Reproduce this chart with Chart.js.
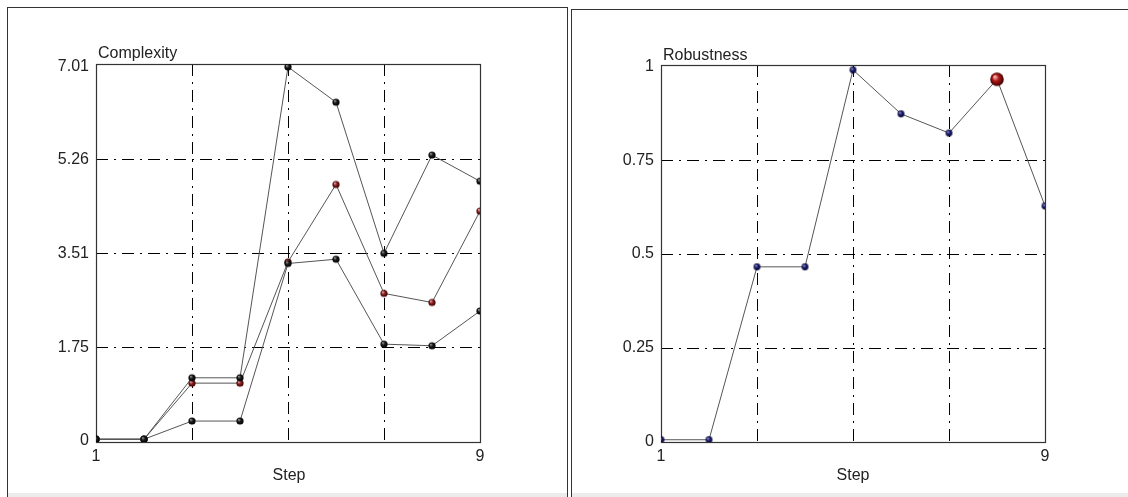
<!DOCTYPE html>
<html>
<head>
<meta charset="utf-8">
<script src="https://cdn.jsdelivr.net/npm/chart.js@4.4.1/dist/chart.umd.min.js"></script>
<style>
  html, body { margin:0; padding:0; background:#fff; width:1128px; height:497px; overflow:hidden; }
  .panel { position:absolute; border:1px solid #333; border-bottom:none; box-sizing:border-box; }
  .wrap { position:absolute; }
  .lbl { position:absolute; font-family:"Liberation Sans", Arial, sans-serif; font-size:16px; line-height:16px; color:#222; white-space:nowrap; }
  .strip { position:absolute; height:4px; background:#ececec; }
</style>
</head>
<body>
<div class="panel" style="left:7px; top:7px; width:561px; height:490px;"></div>
<div class="panel" style="left:571px; top:9px; width:560px; height:488px; border-right:none;"></div>
<div class="strip" style="left:8px; top:493px; width:559px;"></div>
<div class="strip" style="left:572px; top:493px; width:556px;"></div>

<div class="wrap" style="left:8px; top:8px; width:558px; height:489px;"><canvas id="c1"></canvas></div>
<div class="wrap" style="left:572px; top:10px; width:556px; height:487px;"><canvas id="c2"></canvas></div>

<div class="lbl" style="left:98px; top:45px;">Complexity</div>
<div class="lbl" style="left:663px; top:47px;">Robustness</div>
<div class="lbl" id="step1" style="left:289px; top:467px; transform:translateX(-50%);">Step</div>
<div class="lbl" id="step2" style="left:853px; top:467px; transform:translateX(-50%);">Step</div>

<script>
// ---- data ----
const steps = [1, 2, 3, 4, 5, 6, 7, 8, 9];
const complexityUpper = [0.03, 0.03, 1.18, 1.18, 7.00, 6.34, 3.51, 5.35, 4.86];
const complexityRed   = [0.03, 0.03, 1.08, 1.08, 3.35, 4.80, 2.76, 2.59, 4.30];
const complexityLower = [0.03, 0.03, 0.37, 0.37, 3.32, 3.40, 1.81, 1.78, 2.43];
const robustness      = [0.006, 0.006, 0.466, 0.466, 0.99, 0.873, 0.822, 0.965, 0.628];
const robustHighlightIndex = 7;

const xTickValues = [1, 3, 5, 7, 9];
const xTickLabels = ['1', '', '', '', '9'];
const complexityTickValues = [0, 1.75, 3.51, 5.26, 7.01];
const complexityTickLabels = ['0', '1.75', '3.51', '5.26', '7.01'];
const robustTickValues = [0, 0.25, 0.5, 0.75, 1];
const robustTickLabels = ['0', '0.25', '0.5', '0.75', '1'];

// ---- sprites ----
function sphere(r, light, mid, dark) {
  const s = Math.ceil(r * 2) + 2;
  const c = document.createElement('canvas');
  c.width = c.height = s;
  const g = c.getContext('2d');
  const cx = s / 2, cy = s / 2;
  const grad = g.createRadialGradient(cx - r * 0.35, cy - r * 0.4, r * 0.05, cx, cy, r);
  grad.addColorStop(0, light);
  grad.addColorStop(0.45, mid);
  grad.addColorStop(1, dark);
  g.fillStyle = grad;
  g.beginPath(); g.arc(cx, cy, r, 0, Math.PI * 2); g.fill();
  return c;
}
const blackBall = sphere(3.6, '#9a9a9a', '#1a1a1a', '#000000');
const redBall   = sphere(3.6, '#f0b0b0', '#8a2020', '#3a0000');
const navyBall  = sphere(3.4, '#a0a0e0', '#202070', '#000030');
const bigRed    = sphere(6.8, '#ffc8c8', '#b01818', '#400000');

const pts = arr => steps.map((s, i) => ({ x: s, y: arr[i] }));

const frame = {
  id: 'frame',
  beforeDatasetsDraw(chart) {
    const a = chart.chartArea, ctx = chart.ctx;
    ctx.save();
    ctx.strokeStyle = '#333';
    ctx.lineWidth = 1.2;
    ctx.strokeRect(Math.round(a.left) + 0.5, Math.round(a.top) + 0.5,
                   Math.round(a.right - a.left), Math.round(a.bottom - a.top));
    ctx.restore();
  }
};

const FONT = { family: '"Liberation Sans", Arial, sans-serif', size: 16 };
const DASH = [12, 6, 2, 6];

function makeOptions(yMin, yMax, yVals, yLabels, yWidth, padRight, padTop, xHeight) {
  return {
    responsive: true,
    maintainAspectRatio: false,
    animation: false,
    layout: { padding: { left: 0, top: padTop, right: padRight, bottom: 0 } },
    plugins: { legend: { display: false }, tooltip: { enabled: false } },
    elements: { line: { tension: 0 } },
    scales: {
      x: {
        type: 'linear', min: 1, max: 9,
        afterBuildTicks: s => { s.ticks = xTickValues.map(v => ({ value: v })); },
        afterFit: s => { s.height = xHeight; },
        ticks: {
          autoSkip: false, maxRotation: 0, padding: 5, color: '#222', font: FONT,
          callback: v => { const i = xTickValues.indexOf(v); return i >= 0 ? xTickLabels[i] : ''; }
        },
        grid: {
          drawTicks: false, lineWidth: 1,
          color: c => (c.tick && (c.tick.value === 1 || c.tick.value === 9)) ? 'rgba(0,0,0,0)' : '#000'
        },
        border: { display: false, dash: DASH }
      },
      y: {
        type: 'linear', min: yMin, max: yMax,
        afterBuildTicks: s => { s.ticks = yVals.map(v => ({ value: v })); },
        afterFit: s => { s.width = yWidth; },
        ticks: {
          autoSkip: false, padding: 7, color: '#222', font: FONT,
          callback: v => { const i = yVals.indexOf(v); return i >= 0 ? yLabels[i] : ''; }
        },
        grid: {
          drawTicks: false, lineWidth: 1,
          color: c => (c.tick && (c.tick.value === yVals[0] || c.tick.value === yVals[yVals.length - 1])) ? 'rgba(0,0,0,0)' : '#000'
        },
        border: { display: false, dash: DASH }
      }
    }
  };
}

function lineDs(arr, ball) {
  return {
    data: pts(arr),
    borderColor: '#555',
    borderWidth: 1,
    pointStyle: ball,
    pointRadius: 4,
    fill: false
  };
}

new Chart(document.getElementById('c1'), {
  type: 'line',
  data: {
    datasets: [
      lineDs(complexityUpper, blackBall),
      lineDs(complexityLower, blackBall),
      lineDs(complexityRed, redBall)
    ]
  },
  options: makeOptions(-0.022, 7.055, complexityTickValues, complexityTickLabels, 88, 86, 56, 55),
  plugins: [frame]
});

new Chart(document.getElementById('c2'), {
  type: 'line',
  data: {
    datasets: [{
      data: pts(robustness),
      borderColor: '#555',
      borderWidth: 1,
      pointStyle: c => c.dataIndex === robustHighlightIndex ? bigRed : navyBall,
      pointRadius: c => c.dataIndex === robustHighlightIndex ? 7 : 4,
      fill: false
    }]
  },
  options: makeOptions(0, 1.003, robustTickValues, robustTickLabels, 89, 83, 55, 55),
  plugins: [frame]
});
</script>
</body>
</html>
